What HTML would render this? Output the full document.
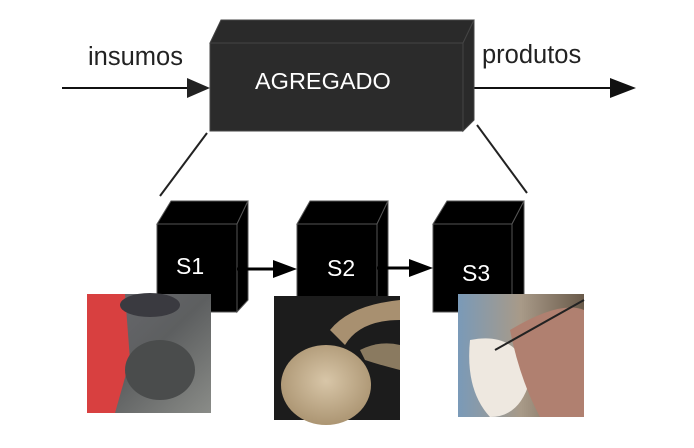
<!DOCTYPE html>
<html><head><meta charset="utf-8"><style>
html,body{margin:0;padding:0;background:#fff;}
</style></head><body>
<svg width="694" height="443" viewBox="0 0 694 443" xmlns="http://www.w3.org/2000/svg" font-family="Liberation Sans, sans-serif">
<defs>
<linearGradient id="p1" x1="0" y1="0" x2="1" y2="1"><stop offset="0" stop-color="#6a6a70"/><stop offset="0.5" stop-color="#5d5f60"/><stop offset="1" stop-color="#8a8c88"/></linearGradient>
<radialGradient id="pot" cx="0.5" cy="0.45" r="0.6"><stop offset="0" stop-color="#d8c6a8"/><stop offset="1" stop-color="#a8916e"/></radialGradient>
<linearGradient id="p3" x1="0" y1="0" x2="1" y2="0"><stop offset="0" stop-color="#7a9ab8"/><stop offset="0.5" stop-color="#a89a88"/><stop offset="1" stop-color="#6a5a4a"/></linearGradient>
</defs>
<line x1="62" y1="88" x2="190" y2="88" stroke="#111" stroke-width="2"/>
<polygon points="187,78 210,88 187,98" fill="#222"/>
<line x1="463" y1="88" x2="612" y2="88" stroke="#111" stroke-width="2"/>
<polygon points="610,78 636,88 610,98" fill="#111"/>
<polygon points="210,43 221,20 474,20 463,43" fill="#2a2a2a" stroke="#444" stroke-width="1"/>
<polygon points="463,43 474,20 474,120 463,131" fill="#2a2a2a" stroke="#444" stroke-width="1"/>
<rect x="210" y="43" width="253" height="88" fill="#2b2b2b" stroke="#444" stroke-width="1"/>
<text x="255" y="89" font-size="23.5" fill="#fff">AGREGADO</text>
<text x="88" y="65" font-size="25.5" fill="#222">insumos</text>
<text x="482" y="63" font-size="25.5" fill="#222">produtos</text>
<line x1="207" y1="133" x2="160" y2="196" stroke="#222" stroke-width="2"/>
<line x1="477" y1="125" x2="527" y2="193" stroke="#222" stroke-width="2"/>
<g stroke="#555" stroke-width="1" fill="#000">
<polygon points="157,224 171,201 248,201 237,224"/><polygon points="237,224 248,201 248,300 237,312"/><rect x="157" y="224" width="80" height="88"/>
<polygon points="297,224 310,201 388,201 377,224"/><polygon points="377,224 388,201 388,300 377,312"/><rect x="297" y="224" width="80" height="88"/>
<polygon points="433,224 447,201 524,201 512,224"/><polygon points="512,224 524,201 524,300 512,312"/><rect x="433" y="224" width="79" height="88"/>
</g>
<text x="176" y="274" font-size="23" fill="#fff">S1</text>
<text x="327" y="276" font-size="23" fill="#fff">S2</text>
<text x="462" y="281" font-size="23" fill="#fff">S3</text>
<line x1="237" y1="269" x2="276" y2="269" stroke="#000" stroke-width="3"/>
<polygon points="273,260 297,269 273,278" fill="#000"/>
<line x1="377" y1="268" x2="412" y2="268" stroke="#000" stroke-width="3"/>
<polygon points="409,259 433,268 409,277" fill="#000"/>
<rect x="87" y="294" width="124" height="119" fill="url(#p1)"/>
<polygon points="87,294 125,294 130,360 115,413 87,413" fill="#d84040"/>
<ellipse cx="150" cy="305" rx="30" ry="12" fill="#3a3a40"/>
<ellipse cx="160" cy="370" rx="35" ry="30" fill="#4a4c4c"/>
<rect x="274" y="296" width="126" height="124" fill="#1c1c1c"/>
<ellipse cx="326" cy="385" rx="45" ry="40" fill="url(#pot)"/>
<path d="M330,330 Q350,305 400,300 L400,320 Q360,320 345,345 Z" fill="#a89070"/>
<path d="M360,350 Q380,340 400,345 L400,370 Q380,365 365,360 Z" fill="#8a7a60"/>
<rect x="458" y="294" width="126" height="123" fill="url(#p3)"/>
<path d="M470,340 Q520,330 530,380 Q520,417 490,417 Q465,390 470,340 Z" fill="#eee8e0"/>
<path d="M510,330 Q560,300 584,310 L584,417 L540,417 Q520,380 510,330 Z" fill="#b08070"/>
<line x1="495" y1="350" x2="584" y2="300" stroke="#222" stroke-width="2"/>
</svg>
</body></html>
